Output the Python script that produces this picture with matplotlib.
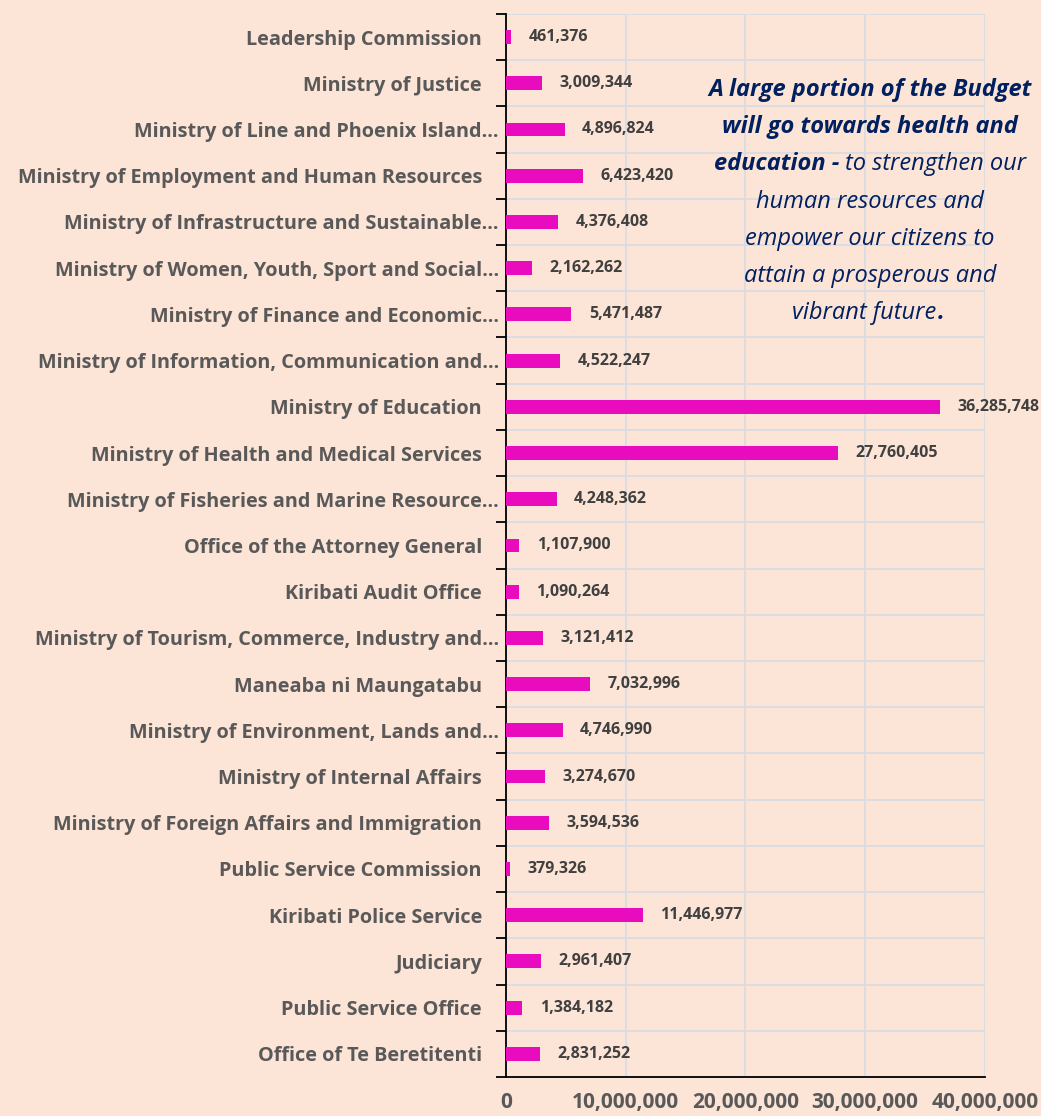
import numpy as np
import matplotlib.pyplot as plt
from matplotlib.transforms import ScaledTranslation
from matplotlib.ticker import FuncFormatter

# budget allocation per ministry, top to bottom as in the chart
ministries = [
    "Leadership Commission",
    "Ministry of Justice",
    "Ministry of Line and Phoenix Island\u2026",
    "Ministry of Employment and Human Resources",
    "Ministry of Infrastructure and Sustainable\u2026",
    "Ministry of Women, Youth, Sport and Social\u2026",
    "Ministry of Finance and Economic\u2026",
    "Ministry of Information, Communication and\u2026",
    "Ministry of Education",
    "Ministry of Health and Medical Services",
    "Ministry of Fisheries and Marine Resource\u2026",
    "Office of the Attorney General",
    "Kiribati Audit Office",
    "Ministry of Tourism, Commerce, Industry and\u2026",
    "Maneaba ni Maungatabu",
    "Ministry of Environment, Lands and\u2026",
    "Ministry of Internal Affairs",
    "Ministry of Foreign Affairs and Immigration",
    "Public Service Commission",
    "Kiribati Police Service",
    "Judiciary",
    "Public Service Office",
    "Office of Te Beretitenti",
]
budget = [
    461376, 3009344, 4896824, 6423420, 4376408, 2162262, 5471487, 4522247,
    36285748, 27760405, 4248362, 1107900, 1090264, 3121412, 7032996,
    4746990, 3274670, 3594536, 379326, 11446977, 2961407, 1384182, 2831252,
]
xticks = [0, 10000000, 20000000, 30000000, 40000000]

note_lines = [
    [("A large portion of the Budget", "bold")],
    [("will go towards health and", "bold")],
    [("education -", "bold"), ("to strengthen our", "normal")],
    [("human resources and", "normal")],
    [("empower our citizens to", "normal")],
    [("attain a prosperous and", "normal")],
    [("vibrant future", "normal"), (".", "bold")],
]

bg = "#FCE4D6"
bar_col = "#E80CBE"
lab_col = "#595959"
val_col = "#404040"
note_col = "#002060"
grid_col = "#D6DCE4"
font = "Open Sans"

plt.rcParams["font.family"] = [font, "DejaVu Sans"]

fig = plt.figure(figsize=(10.41, 11.16), dpi=100, facecolor=bg)
ax = fig.add_axes([0.486, 0.035, 0.46, 0.9525])
ax.set_facecolor(bg)

y = np.arange(len(ministries))
ax.barh(y, budget, height=0.3, color=bar_col, zorder=3)
ax.set_ylim(len(ministries) - 0.5, -0.5)
ax.set_xlim(0, 40000000)

for yi, v in zip(y, budget):
    ax.annotate(f"{v:,}", (v, yi), xytext=(12.5, 0), textcoords="offset points",
                va="center", ha="left", fontsize=11.5, fontweight="bold",
                color=val_col)

ax.set_yticks(y)
ax.set_yticklabels(ministries, fontsize=14.3, fontweight="bold", color=lab_col)
ax.set_yticks(np.arange(len(ministries) + 1) - 0.5, minor=True)
ax.tick_params(axis="y", which="major", length=0, pad=5)
ax.tick_params(axis="y", which="minor", length=7, width=1.3, color="black")
# labels without an ellipsis sit a little further from the axis
for lab in ax.get_yticklabels():
    if not lab.get_text().endswith("\u2026"):
        lab.set_transform(lab.get_transform() +
                          ScaledTranslation(-17 / 100, 0, fig.dpi_scale_trans))

ax.set_xticks(xticks)
ax.xaxis.set_major_formatter(FuncFormatter(lambda v, p: f"{int(v):,}"))
ax.tick_params(axis="x", length=0, pad=11, labelsize=15, labelcolor=lab_col)
for lab in ax.get_xticklabels():
    lab.set_fontweight("bold")

ax.grid(axis="x", which="major", color=grid_col, lw=1.2, zorder=0)
ax.grid(axis="y", which="minor", color=grid_col, lw=1.2, zorder=0)
ax.grid(axis="y", which="major", visible=False)
ax.set_axisbelow(True)
for s in ["top", "right"]:
    ax.spines[s].set_visible(False)
for s in ["left", "bottom"]:
    ax.spines[s].set_linewidth(1.3)
    ax.spines[s].set_color("black")

# call-out text, centred, with mixed bold / regular italics
renderer = fig.canvas.get_renderer()
cx = 870 / 1041
y0 = 1 - 90 / 1116
dy = 37.2 / 1116
gap = 5
for i, segs in enumerate(note_lines):
    ty = y0 - i * dy
    texts = []
    for s, w in segs:
        t = fig.text(0, ty, s, fontsize=17, style="italic", fontweight=w,
                     color=note_col, va="center", ha="left")
        texts.append(t)
    widths = [t.get_window_extent(renderer).width for t in texts]
    total = sum(widths) + gap * (len(texts) - 1)
    x = cx * 1041 - total / 2
    for t, w in zip(texts, widths):
        t.set_x(x / 1041)
        x += w + gap
    # the closing full stop hugs the word
    if segs[-1][0] == ".":
        texts[-1].set_x(texts[-1].get_position()[0] - (gap - 1) / 1041)

fig.savefig("out.png", dpi=100, facecolor=bg)
